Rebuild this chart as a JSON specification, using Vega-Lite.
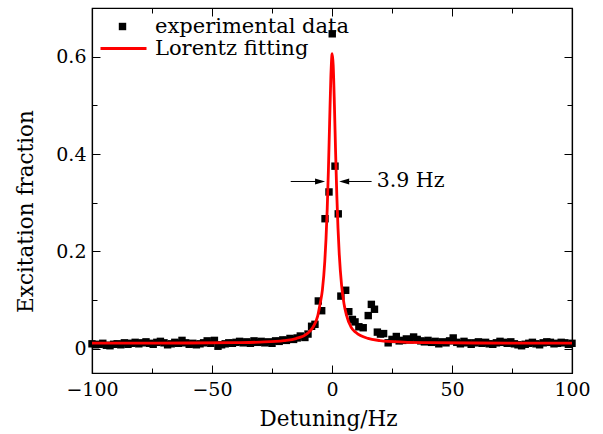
{
  "$schema": "https://vega.github.io/schema/vega-lite/v6.json",
  "width": 480,
  "height": 365,
  "autosize": {"type": "none"},
  "padding": {"left": 92, "top": 8, "right": 31, "bottom": 61},
  "background": "white",
  "config": {
    "view": {"stroke": "black", "strokeWidth": 1.2},
    "font": "DejaVu Serif",
    "axis": {
      "grid": false,
      "domainColor": "black",
      "domainWidth": 1.2,
      "tickColor": "black",
      "tickWidth": 1,
      "labelFont": "DejaVu Serif",
      "labelFontSize": 19,
      "labelColor": "black",
      "titleFont": "DejaVu Serif",
      "titleFontSize": 21.5,
      "titleFontWeight": "normal",
      "titleColor": "black"
    }
  },
  "datasets": {
    "exp": [
      {"d": -100, "f": 0.010}, {"d": -98.5, "f": 0.008}, {"d": -97, "f": 0.009}, {"d": -95.5, "f": 0.011},
      {"d": -94, "f": 0.007}, {"d": -92.5, "f": 0.006}, {"d": -91, "f": 0.009}, {"d": -89.5, "f": 0.010},
      {"d": -88, "f": 0.008}, {"d": -86.5, "f": 0.012}, {"d": -85, "f": 0.009}, {"d": -83.5, "f": 0.011},
      {"d": -82, "f": 0.013}, {"d": -80.5, "f": 0.010}, {"d": -79, "f": 0.012}, {"d": -77.5, "f": 0.014},
      {"d": -76, "f": 0.011}, {"d": -74.5, "f": 0.009}, {"d": -73, "f": 0.013}, {"d": -71.5, "f": 0.015},
      {"d": -70, "f": 0.012}, {"d": -68.5, "f": 0.008}, {"d": -67, "f": 0.010}, {"d": -65.5, "f": 0.013},
      {"d": -64, "f": 0.011}, {"d": -62.5, "f": 0.017}, {"d": -61, "f": 0.012}, {"d": -59.5, "f": 0.009},
      {"d": -58, "f": 0.011}, {"d": -56.5, "f": 0.008}, {"d": -55, "f": 0.010}, {"d": -53.5, "f": 0.012},
      {"d": -52, "f": 0.016}, {"d": -50.5, "f": 0.011}, {"d": -49, "f": 0.017}, {"d": -47.5, "f": 0.005},
      {"d": -46, "f": 0.008}, {"d": -44.5, "f": 0.010}, {"d": -43, "f": 0.012}, {"d": -41.5, "f": 0.011},
      {"d": -40, "f": 0.013}, {"d": -38.5, "f": 0.015}, {"d": -37, "f": 0.012}, {"d": -35.5, "f": 0.014},
      {"d": -34, "f": 0.011}, {"d": -32.5, "f": 0.016}, {"d": -31, "f": 0.013}, {"d": -29.5, "f": 0.015},
      {"d": -28, "f": 0.012}, {"d": -26.5, "f": 0.014}, {"d": -25, "f": 0.011}, {"d": -23.5, "f": 0.016},
      {"d": -22, "f": 0.015}, {"d": -20.5, "f": 0.018}, {"d": -19, "f": 0.017}, {"d": -17.5, "f": 0.021},
      {"d": -16, "f": 0.019}, {"d": -14.5, "f": 0.022}, {"d": -13.2, "f": 0.026}, {"d": -11.3, "f": 0.023},
      {"d": -10, "f": 0.030}, {"d": -8.5, "f": 0.046}, {"d": -7.1, "f": 0.050}, {"d": -5.7, "f": 0.098},
      {"d": -4.3, "f": 0.078}, {"d": -2.9, "f": 0.267}, {"d": -1.25, "f": 0.322}, {"d": 0.1, "f": 0.647},
      {"d": 1.25, "f": 0.375}, {"d": 2.6, "f": 0.277}, {"d": 3.7, "f": 0.108}, {"d": 5.7, "f": 0.120},
      {"d": 7.0, "f": 0.076}, {"d": 8.5, "f": 0.060}, {"d": 9.6, "f": 0.055}, {"d": 11.2, "f": 0.045},
      {"d": 13.0, "f": 0.043}, {"d": 15.1, "f": 0.068}, {"d": 16.4, "f": 0.091}, {"d": 17.7, "f": 0.081},
      {"d": 18.9, "f": 0.034}, {"d": 20.2, "f": 0.030}, {"d": 21.5, "f": 0.031}, {"d": 23.4, "f": 0.012},
      {"d": 25, "f": 0.019}, {"d": 26.8, "f": 0.025}, {"d": 28, "f": 0.016}, {"d": 29.5, "f": 0.017},
      {"d": 31, "f": 0.020}, {"d": 32.5, "f": 0.018}, {"d": 34, "f": 0.024}, {"d": 35.5, "f": 0.019},
      {"d": 37, "f": 0.016}, {"d": 38.5, "f": 0.014}, {"d": 40, "f": 0.017}, {"d": 41.5, "f": 0.013},
      {"d": 43, "f": 0.015}, {"d": 44.5, "f": 0.010}, {"d": 46, "f": 0.014}, {"d": 47.5, "f": 0.012},
      {"d": 49, "f": 0.016}, {"d": 50.5, "f": 0.022}, {"d": 52, "f": 0.013}, {"d": 53.5, "f": 0.010},
      {"d": 55, "f": 0.015}, {"d": 56.5, "f": 0.012}, {"d": 58, "f": 0.009}, {"d": 59.5, "f": 0.012},
      {"d": 61, "f": 0.014}, {"d": 62.5, "f": 0.011}, {"d": 64, "f": 0.013}, {"d": 65.5, "f": 0.010},
      {"d": 67, "f": 0.009}, {"d": 68.5, "f": 0.012}, {"d": 70, "f": 0.015}, {"d": 71.5, "f": 0.013},
      {"d": 73, "f": 0.011}, {"d": 74.5, "f": 0.014}, {"d": 76, "f": 0.010}, {"d": 77.5, "f": 0.008},
      {"d": 79, "f": 0.006}, {"d": 80.5, "f": 0.009}, {"d": 82, "f": 0.011}, {"d": 83.5, "f": 0.013},
      {"d": 85, "f": 0.010}, {"d": 86.5, "f": 0.008}, {"d": 88, "f": 0.012}, {"d": 89.5, "f": 0.014},
      {"d": 91, "f": 0.013}, {"d": 92.5, "f": 0.010}, {"d": 94, "f": 0.011}, {"d": 95.5, "f": 0.013},
      {"d": 97, "f": 0.012}, {"d": 98.5, "f": 0.009}, {"d": 100, "f": 0.011}
    ],
    "fit": [
      {"d": -100, "f": 0.0112}, {"d": -80, "f": 0.0114}, {"d": -60, "f": 0.0116}, {"d": -40, "f": 0.0124},
      {"d": -30, "f": 0.0135}, {"d": -20, "f": 0.0166}, {"d": -15, "f": 0.0208}, {"d": -10, "f": 0.0324},
      {"d": -8, "f": 0.0436}, {"d": -6, "f": 0.0662}, {"d": -5, "f": 0.0912}, {"d": -4, "f": 0.1207},
      {"d": -3, "f": 0.1797}, {"d": -2.5, "f": 0.2252}, {"d": -2, "f": 0.2865}, {"d": -1.5, "f": 0.3666},
      {"d": -1, "f": 0.4624}, {"d": -0.5, "f": 0.5546}, {"d": 0, "f": 0.6044}, {"d": 0.1, "f": 0.606},
      {"d": 0.5, "f": 0.582}, {"d": 1, "f": 0.5016}, {"d": 1.5, "f": 0.4036}, {"d": 2, "f": 0.3162},
      {"d": 2.5, "f": 0.2476}, {"d": 3, "f": 0.1963}, {"d": 4, "f": 0.130}, {"d": 5, "f": 0.0923},
      {"d": 6, "f": 0.0696}, {"d": 8, "f": 0.0436}, {"d": 10, "f": 0.0332}, {"d": 15, "f": 0.0210},
      {"d": 20, "f": 0.0167}, {"d": 30, "f": 0.0135}, {"d": 40, "f": 0.0124}, {"d": 60, "f": 0.0116},
      {"d": 80, "f": 0.0114}, {"d": 100, "f": 0.0112}
    ],
    "arrows": [
      {"d": -17.2, "d2": -4, "f": 0.3435},
      {"d": 16.5, "d2": 4.2, "f": 0.3435}
    ],
    "headR": [{"d": -2.9, "f": 0.3435}],
    "headL": [{"d": 3.0, "f": 0.3435}],
    "notes": [
      {"d": 18.6, "f": 0.3435, "t": "3.9 Hz"}
    ]
  },
  "layer": [
    {
      "data": {"name": "exp"},
      "mark": {"type": "point", "filled": true, "size": 55, "opacity": 1, "color": "black"},
      "encoding": {
        "x": {
          "field": "d", "type": "quantitative",
          "scale": {"domain": [-100, 100], "nice": false, "zero": false},
          "axis": {
            "orient": "bottom",
            "values": [-100, -75, -50, -25, 0, 25, 50, 75, 100],
            "labelExpr": "datum.value % 50 === 0 ? datum.label : ''",
            "tickSize": {"condition": {"test": "datum.value % 50 === 0", "value": -8}, "value": -5},
            "labelPadding": 15,
            "labelFlush": false,
            "labelOverlap": false,
            "title": "Detuning/Hz",
            "titleX": 236,
            "titleY": 46,
            "titleBaseline": "middle"
          }
        },
        "y": {
          "field": "f", "type": "quantitative",
          "scale": {"domain": [-0.05, 0.7], "nice": false, "zero": false},
          "axis": {
            "orient": "left",
            "values": [0, 0.1, 0.2, 0.3, 0.4, 0.5, 0.6],
            "labelExpr": "round(datum.value * 10) % 2 === 0 ? format(datum.value, '~g') : ''",
            "tickSize": {"condition": {"test": "round(datum.value * 10) % 2 === 0", "value": -8}, "value": -5},
            "labelPadding": 14,
            "labelOverlap": false,
            "title": "Excitation fraction",
            "titleX": -66,
            "titleY": 203,
            "titleAngle": -90,
            "titleAlign": "center",
            "titleBaseline": "middle"
          }
        },
        "shape": {
          "datum": "experimental data", "type": "nominal",
          "scale": {"domain": ["experimental data"], "range": ["square"]},
          "legend": {
            "orient": "none",
            "legendX": 20,
            "legendY": 8,
            "title": null,
            "padding": 0,
            "symbolSize": 55,
            "symbolFillColor": "black",
            "symbolStrokeWidth": 0,
            "symbolOpacity": 1,
            "labelFont": "DejaVu Serif",
            "labelFontSize": 21,
            "labelColor": "black",
            "labelLimit": 400,
            "labelOffset": 22
          }
        }
      }
    },
    {
      "data": {"name": "fit"},
      "mark": {"type": "line", "strokeWidth": 2.8, "interpolate": "monotone"},
      "encoding": {
        "x": {
          "field": "d", "type": "quantitative",
          "axis": {
            "orient": "top",
            "values": [-100, -75, -50, -25, 0, 25, 50, 75, 100],
            "labels": false,
            "title": null,
            "tickSize": {"condition": {"test": "datum.value % 50 === 0", "value": -8}, "value": -5}
          }
        },
        "y": {
          "field": "f", "type": "quantitative",
          "axis": {
            "orient": "right",
            "values": [0, 0.1, 0.2, 0.3, 0.4, 0.5, 0.6],
            "labels": false,
            "title": null,
            "tickSize": {"condition": {"test": "round(datum.value * 10) % 2 === 0", "value": -8}, "value": -5}
          }
        },
        "color": {
          "datum": "Lorentz fitting", "type": "nominal",
          "scale": {"domain": ["Lorentz fitting"], "range": ["red"]},
          "legend": {
            "orient": "none",
            "legendX": 7,
            "legendY": 16,
            "title": null,
            "padding": 0,
            "symbolType": "stroke",
            "symbolSize": 2116,
            "symbolStrokeWidth": 2.8,
            "symbolStrokeColor": "red",
            "labelFont": "DejaVu Serif",
            "labelFontSize": 21,
            "labelColor": "black",
            "labelLimit": 400,
            "labelOffset": 7
          }
        }
      }
    },
    {
      "data": {"name": "arrows"},
      "mark": {"type": "rule", "color": "black", "strokeWidth": 1},
      "encoding": {
        "x": {"field": "d", "type": "quantitative", "axis": null},
        "x2": {"field": "d2"},
        "y": {"field": "f", "type": "quantitative", "axis": null}
      }
    },
    {
      "data": {"name": "headR"},
      "mark": {"type": "point", "filled": true, "size": 400, "color": "black", "opacity": 1, "shape": "M0,0L-1,-0.3L-1,0.3Z"},
      "encoding": {
        "x": {"field": "d", "type": "quantitative", "axis": null},
        "y": {"field": "f", "type": "quantitative", "axis": null}
      }
    },
    {
      "data": {"name": "headL"},
      "mark": {"type": "point", "filled": true, "size": 400, "color": "black", "opacity": 1, "shape": "M0,0L1,-0.3L1,0.3Z"},
      "encoding": {
        "x": {"field": "d", "type": "quantitative", "axis": null},
        "y": {"field": "f", "type": "quantitative", "axis": null}
      }
    },
    {
      "data": {"name": "notes"},
      "mark": {"type": "text", "align": "left", "baseline": "middle", "font": "DejaVu Serif", "fontSize": 20.5, "color": "black"},
      "encoding": {
        "x": {"field": "d", "type": "quantitative", "axis": null},
        "y": {"field": "f", "type": "quantitative", "axis": null},
        "text": {"field": "t"}
      }
    }
  ],
  "resolve": {"axis": {"x": "independent", "y": "independent"}}
}
